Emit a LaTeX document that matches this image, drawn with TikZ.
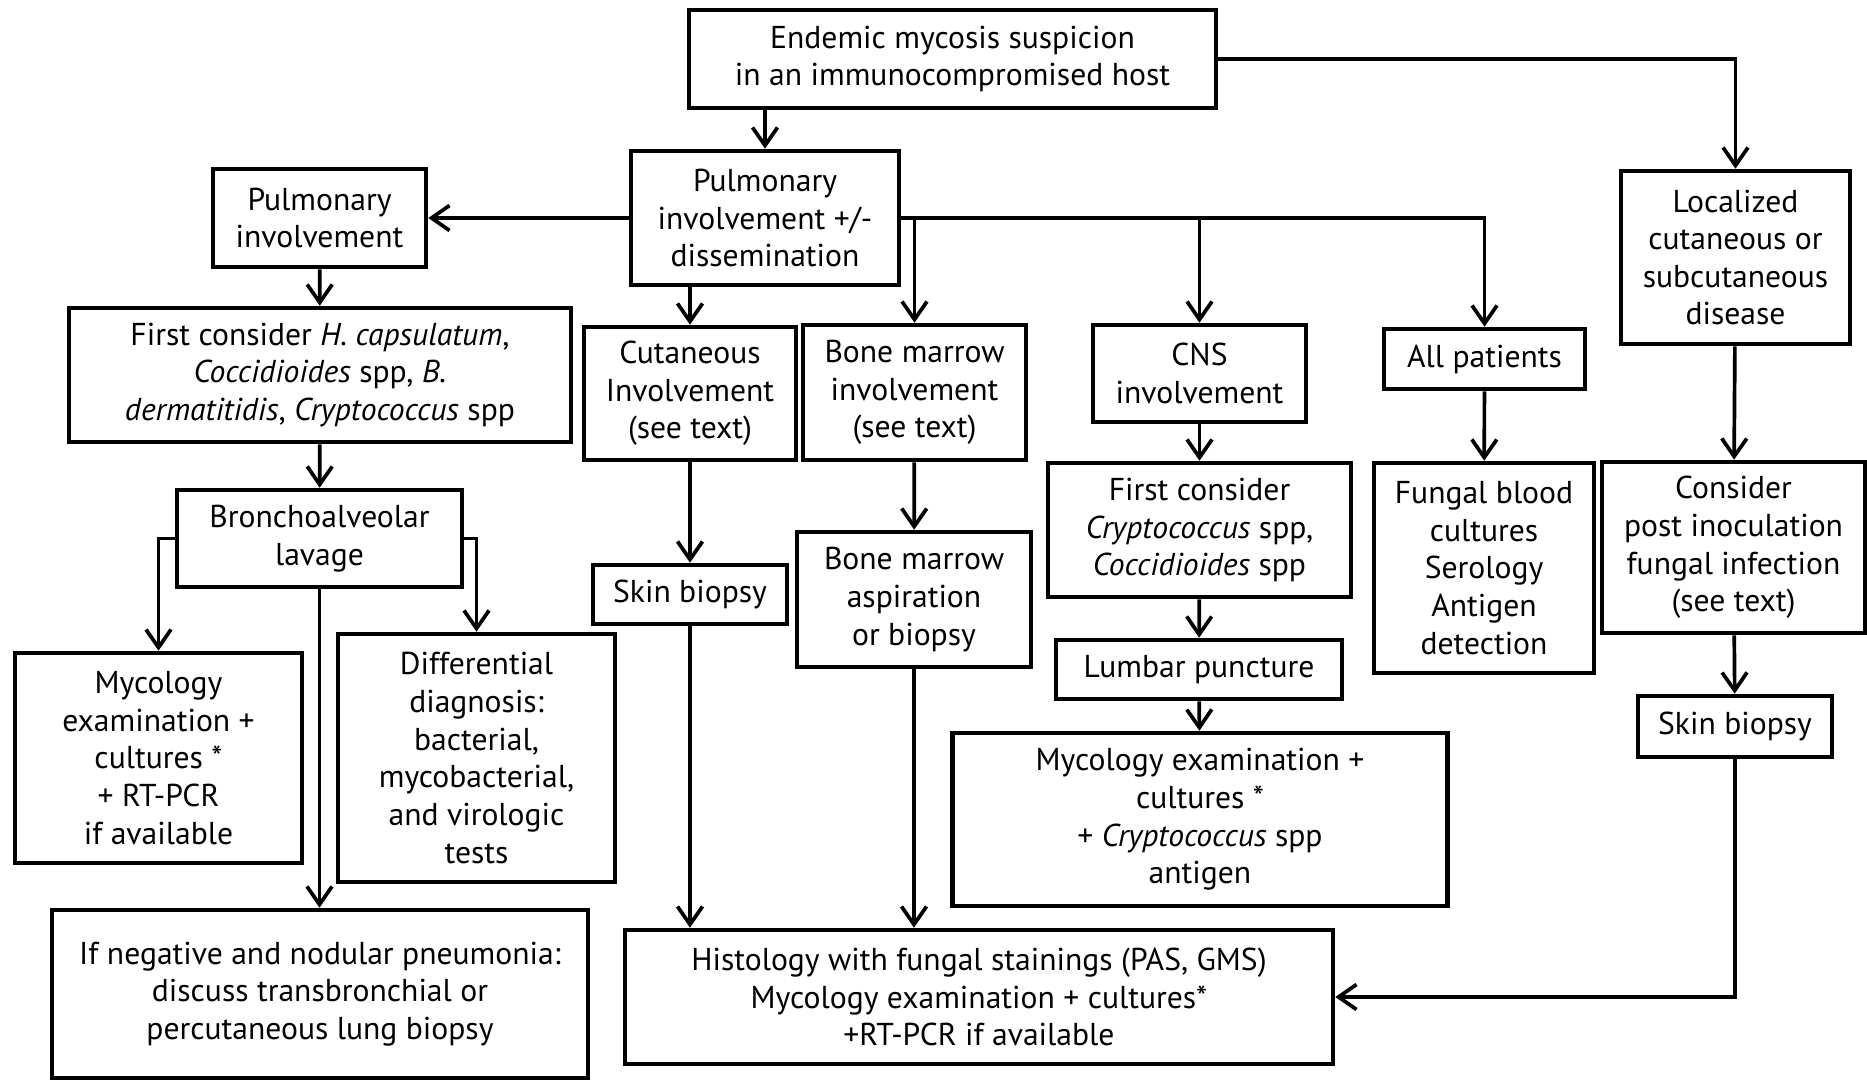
\documentclass[tikz,border=0pt]{standalone}
\usepackage{fontspec}
\setmainfont{PT Sans}
\usepackage{tikz}
\usetikzlibrary{arrows.meta,positioning,calc}

\begin{document}
\begin{tikzpicture}[
  box/.style={draw, line width=1.3pt, align=center, inner sep=1pt,
              font=\fontsize{9}{10.7}\selectfont},
  arr/.style={line width=1.05pt, -{Straight Barb[length=1.8mm,width=2.5mm,line width=1.05pt]}},
  ln/.style={line width=1.05pt}
]
\useasboundingbox (0,0) rectangle (18.67,-10.80);

% ======= Top =======
\node[box, minimum width=5.27cm, minimum height=0.98cm] (top) at (9.525,-0.59)
  {Endemic mycosis suspicion\\in an immunocompromised host};
\node[box, minimum width=2.68cm, minimum height=1.34cm] (pdis) at (7.65,-2.18)
  {Pulmonary\\involvement +/-\\dissemination};

% ======= Pulmonary branch =======
\node[box, minimum width=2.13cm, minimum height=0.98cm] (pulm) at (3.195,-2.18)
  {Pulmonary\\involvement};
\node[box, minimum width=5.02cm, minimum height=1.34cm] (hcaps) at (3.2,-3.75)
  {First consider \textit{H. capsulatum},\\\textit{Coccidioides} spp, \textit{B.}\\\textit{dermatitidis}, \textit{Cryptococcus} spp};
\node[box, minimum width=2.85cm, minimum height=0.97cm] (bal) at (3.195,-5.385)
  {Bronchoalveolar\\lavage};
\node[box, minimum width=2.87cm, minimum height=2.10cm] (mycl) at (1.585,-7.58)
  {Mycology\\examination +\\cultures *\\+ RT-PCR\\if available};
\node[box, minimum width=2.77cm, minimum height=2.48cm] (diff) at (4.765,-7.58)
  {Differential\\diagnosis:\\bacterial,\\mycobacterial,\\and virologic\\tests};
\node[box, minimum width=5.36cm, minimum height=1.68cm] (neg) at (3.2,-9.94)
  {If negative and nodular pneumonia:\\discuss transbronchial or\\percutaneous lung biopsy};

% ======= Cutaneous / bone marrow =======
\node[box, minimum width=2.12cm, minimum height=1.33cm] (cut) at (6.9,-3.935)
  {Cutaneous\\Involvement\\(see text)};
\node[box, minimum width=2.23cm, minimum height=1.35cm] (bm) at (9.145,-3.925)
  {Bone marrow\\involvement\\(see text)};
\node[box, minimum width=1.94cm, minimum height=0.59cm] (skina) at (6.9,-5.945)
  {Skin biopsy};
\node[box, minimum width=2.34cm, minimum height=1.35cm] (bmasp) at (9.14,-5.995)
  {Bone marrow\\aspiration\\or biopsy};
\node[box, minimum width=7.08cm, minimum height=1.34cm] (hist) at (9.79,-9.97)
  {Histology with fungal stainings (PAS, GMS)\\Mycology examination + cultures*\\+RT-PCR if available};

% ======= CNS =======
\node[box, minimum width=2.13cm, minimum height=0.97cm] (cns) at (11.995,-3.735)
  {CNS\\involvement};
\node[box, minimum width=3.03cm, minimum height=1.34cm] (cryp) at (11.995,-5.30)
  {First consider\\\textit{Cryptococcus} spp,\\\textit{Coccidioides} spp};
\node[box, minimum width=2.86cm, minimum height=0.59cm] (lumb) at (11.99,-6.695)
  {Lumbar puncture};
\node[box, minimum width=4.95cm, minimum height=1.73cm] (mycc) at (12.0,-8.195)
  {Mycology examination +\\cultures *\\+ \textit{Cryptococcus} spp\\antigen};

% ======= All patients =======
\node[box, minimum width=2.01cm, minimum height=0.60cm] (allp) at (14.845,-3.59)
  {All patients};
\node[box, minimum width=2.20cm, minimum height=2.10cm] (blood) at (14.84,-5.68)
  {Fungal blood\\cultures\\Serology\\Antigen\\detection};

% ======= Localized =======
\node[box, minimum width=2.29cm, minimum height=1.73cm] (loc) at (17.355,-2.575)
  {Localized\\cutaneous or\\subcutaneous\\disease};
\node[box, minimum width=2.63cm, minimum height=1.71cm] (post) at (17.335,-5.475)
  {Consider\\post inoculation\\fungal infection\\(see text)};
\node[box, minimum width=1.94cm, minimum height=0.61cm] (skinb) at (17.35,-7.265)
  {Skin biopsy};

% ======= Connectors =======
\draw[arr] (pdis.north |- top.south) -- (pdis.north);
\draw[arr] (top.east) -| (loc.north);
\draw[arr] (pdis.west) -- (pulm.east);
\draw[arr] (cut.north |- pdis.south) -- (cut.north);
\foreach \n in {bm,cns,allp}
  \draw[arr] (pdis.east) -| (\n.north);

\draw[arr] (pulm) -- (hcaps);
\draw[arr] (hcaps) -- (bal);
\draw[arr] (bal.west) -| (mycl.north);
\draw[arr] (bal.east) -| (diff.north);
\draw[arr] (bal.south) -- (bal.south |- neg.north);

\draw[arr] (cut) -- (skina);
\draw[arr] (skina.south) -- (skina.south |- hist.north);
\draw[arr] (bm) -- (bmasp);
\draw[arr] (bmasp.south) -- (bmasp.south |- hist.north);

\draw[arr] (cns) -- (cryp);
\draw[arr] (cryp) -- (lumb);
\draw[arr] (lumb) -- (mycc);
\draw[arr] (allp) -- (blood);

\draw[arr] (loc) -- (post);
\draw[arr] (post) -- (skinb);
\draw[arr] (skinb.south) |- (hist.east);

\end{tikzpicture}
\end{document}
